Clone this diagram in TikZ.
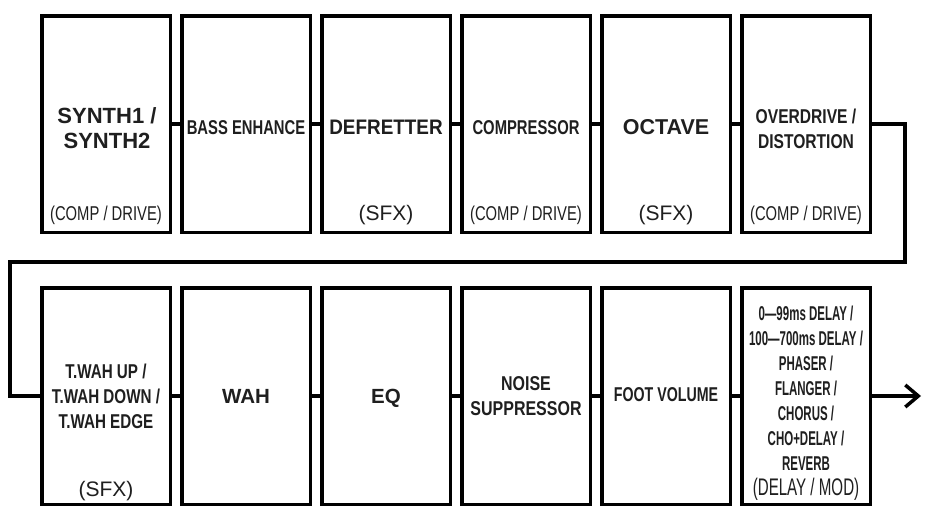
\documentclass[tikz,border=0pt]{standalone}
\usepackage{fontspec}
\setmainfont{Liberation Sans}
\usetikzlibrary{arrows.meta}
\newcommand{\lbl}[3]{\scalebox{#1}[1]{\fontsize{#2}{25.5}\selectfont\begin{tabular}{@{}c@{}}#3\end{tabular}}}
\newcommand{\lblb}[3]{\scalebox{#1}[1]{\fontsize{#2}{25}\selectfont\begin{tabular}{@{}c@{}}#3\end{tabular}}}
\tikzset{
  fxbox/.style={draw, line width=3.5pt, minimum width=128.5pt, minimum height=216.5pt, inner sep=0pt},
  wire/.style={line width=3.5pt},
  txt/.style={inner sep=0pt, text=black!88},
}
\begin{document}
\begin{tikzpicture}[x=1pt,y=-1pt]
\useasboundingbox[fill=white] (0,0) rectangle (926,512);
% top row
\node[fxbox] (b1) at (106,124) {};
\node[fxbox] (b2) at (246,124) {};
\node[fxbox] (b3) at (386,124) {};
\node[fxbox] (b4) at (526,124) {};
\node[fxbox] (b5) at (666,124) {};
\node[fxbox] (b6) at (806,124) {};
% bottom row
\node[fxbox] (b7) at (106,396) {};
\node[fxbox] (b8) at (246,396) {};
\node[fxbox] (b9) at (386,396) {};
\node[fxbox] (b10) at (526,396) {};
\node[fxbox] (b11) at (666,396) {};
\node[fxbox] (b12) at (806,396) {};
% labels top
\node[txt] (t1) at (107,131) {\bfseries\lbl{1}{22}{SYNTH1 /\\SYNTH2}};
\node[txt] (s1) at (106,215) {\lbl{0.74}{20}{(COMP / DRIVE)}};
\node[txt] (t2) at (246,129) {\bfseries\lbl{0.74}{20}{BASS ENHANCE}};
\node[txt] (t3) at (386,129) {\bfseries\lbl{0.9}{21}{DEFRETTER}};
\node[txt] (s3) at (386,215) {\lbl{1}{21}{(SFX)}};
\node[txt] (t4) at (526,129) {\bfseries\lbl{0.74}{20}{COMPRESSOR}};
\node[txt] (s4) at (526,215) {\lbl{0.74}{20}{(COMP / DRIVE)}};
\node[txt] (t5) at (666,129) {\bfseries\lbl{1}{21.5}{OCTAVE}};
\node[txt] (s5) at (666,215) {\lbl{1}{21}{(SFX)}};
\node[txt] (t6) at (806,131) {\bfseries\lbl{0.78}{20}{OVERDRIVE /\\DISTORTION}};
\node[txt] (s6) at (806,215) {\lbl{0.74}{20}{(COMP / DRIVE)}};
% labels bottom
\node[txt] (t7) at (106,398) {\bfseries\lblb{0.76}{20}{T.WAH UP /\\T.WAH DOWN /\\T.WAH EDGE}};
\node[txt] (s7) at (106,491) {\lbl{1}{21}{(SFX)}};
\node[txt] (t8) at (246,398) {\bfseries\lbl{1}{20.5}{WAH}};
\node[txt] (t9) at (386,398) {\bfseries\lbl{1}{20.5}{EQ}};
\node[txt] (t10) at (526,397.5) {\bfseries\lblb{0.8}{20}{NOISE\\SUPPRESSOR}};
\node[txt] (t11) at (666,396.5) {\bfseries\lbl{0.71}{20}{FOOT VOLUME}};
\node[txt] (t12) at (806,390) {\bfseries\lblb{0.575}{20}{0—99ms DELAY /\\100—700ms DELAY /\\PHASER /\\FLANGER /\\CHORUS /\\CHO+DELAY /\\REVERB}};
\node[txt] (s12) at (806,490) {\lbl{0.63}{24}{(DELAY / MOD)}};
% connectors
\draw[wire] (b1.east) -- (b2.west);
\draw[wire] (b2.east) -- (b3.west);
\draw[wire] (b3.east) -- (b4.west);
\draw[wire] (b4.east) -- (b5.west);
\draw[wire] (b5.east) -- (b6.west);
\coordinate (c1) at (905,124);
\coordinate (c2) at (905,262);
\coordinate (c3) at (10,262);
\coordinate (c4) at (10,396);
\draw[wire] (b6.east) -- (c1) -- (c2) -- (c3) -- (c4) -- (b7.west);
\draw[wire] (b7.east) -- (b8.west);
\draw[wire] (b8.east) -- (b9.west);
\draw[wire] (b9.east) -- (b10.west);
\draw[wire] (b10.east) -- (b11.west);
\draw[wire] (b11.east) -- (b12.west);
\coordinate (out) at (921,396);
\draw[wire, -{Straight Barb[length=13pt,width=22pt]}] (b12.east) -- (out);
\end{tikzpicture}
\end{document}
